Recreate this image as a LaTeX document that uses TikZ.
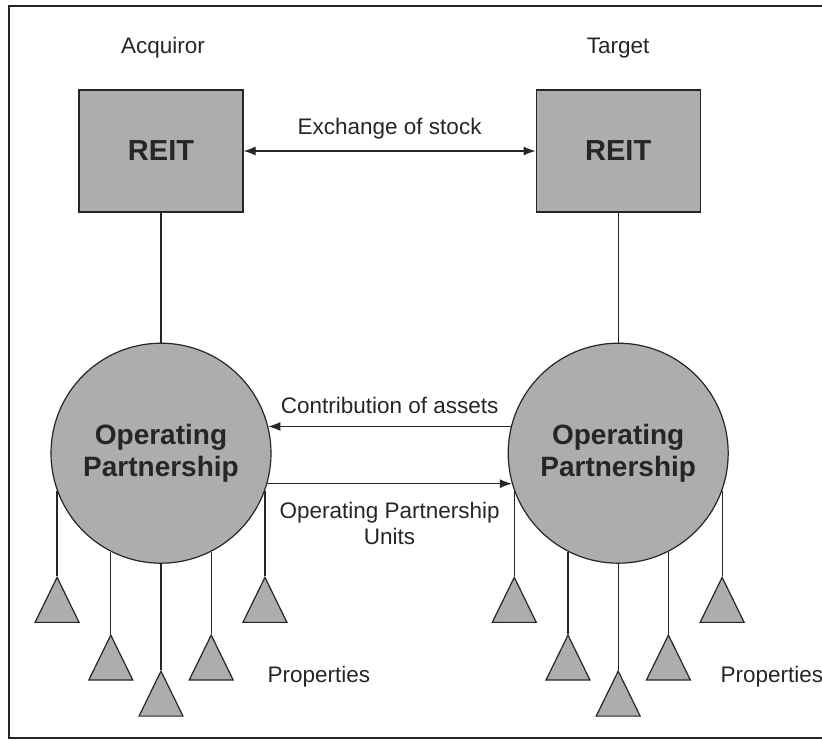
\documentclass[tikz,border=0pt]{standalone}
\usepackage{fontspec}
\setmainfont{Liberation Sans}
\usepackage{tikz}
\usetikzlibrary{arrows.meta,positioning,calc,shapes.geometric}

\colorlet{ink}{black!85}
\colorlet{shade}{black!32}

\begin{document}
\begin{tikzpicture}[
    x=1pt, y=-1pt,
    line width=1.2pt, draw=ink,
    txt/.style={font=\fontsize{22.5}{26}\selectfont, text=ink, align=center, inner sep=0pt},
    reit/.style={rectangle, draw=ink, fill=shade, minimum width=164pt, minimum height=122pt,
        font=\fontsize{29}{32}\selectfont\bfseries, text=ink},
    opnode/.style={circle, draw=ink, fill=shade, minimum size=220pt, inner sep=0pt, align=center,
        font=\fontsize{28}{32}\selectfont\bfseries, text=ink},
    prop/.style={isosceles triangle, isosceles triangle apex angle=54, isosceles triangle stretches,
        shape border rotate=90, draw=ink, fill=shade, minimum width=44pt, minimum height=45pt,
        inner sep=0pt, anchor=apex},
    flow/.style={-{Latex[length=12pt, width=9pt]}, draw=ink},
]
    \useasboundingbox (0,0) rectangle (822,740);
    % frame, open on the right
    \draw[line width=2pt] (822,6) -- (9,6) -- (9,738) -- (822,738);

    % the two REITs
    \node[reit] (acqreit) at (161,151) {REIT};
    \node[reit, right=292pt of acqreit] (tgtreit) {REIT};
    \node[txt] (acqlabel) at (163,48) {Acquiror};
    \node[txt] (tgtlabel) at (tgtreit |- acqlabel) {Target};

    % operating partnerships
    \node[opnode, below=130pt of acqreit] (acqop) {Operating\\Partnership};
    \node[opnode, below=130pt of tgtreit] (tgtop) {Operating\\Partnership};
    \draw (acqreit) -- (acqop);
    \draw (tgtreit) -- (tgtop);

    % exchanges between the two sides
    \draw[{Latex[length=12pt, width=9pt]}-{Latex[length=12pt, width=9pt]}] (acqreit) --
        node[txt, above=11pt] (stocklabel) {Exchange of stock} (tgtreit);
    \draw[flow] (tgtop.166) -- node[txt, above=12pt] (assetlabel) {Contribution of assets} (acqop.14);
    \draw[flow] (acqop.-16) -- node[txt, below=18pt] (unitlabel) {Operating Partnership\\Units} (tgtop.196);

    % properties hanging from each partnership
    \foreach \side in {acq,tgt} {
        \foreach \ang/\len [count=\k] in {200/85, 243/82, 270/106, 297/82, 340/85} {
            \coordinate (\side leg\k) at (\side op.\ang);
            \node[prop] (\side prop\k) at ($(\side leg\k)+(0,\len)$) {};
            \draw (\side leg\k) -- (\side prop\k.apex);
        }
    }
    \node[txt, anchor=west] (acqprops) at (267,677) {Properties};
    \node[txt, anchor=west] (tgtprops) at (720,677) {Properties};
\end{tikzpicture}
\end{document}
